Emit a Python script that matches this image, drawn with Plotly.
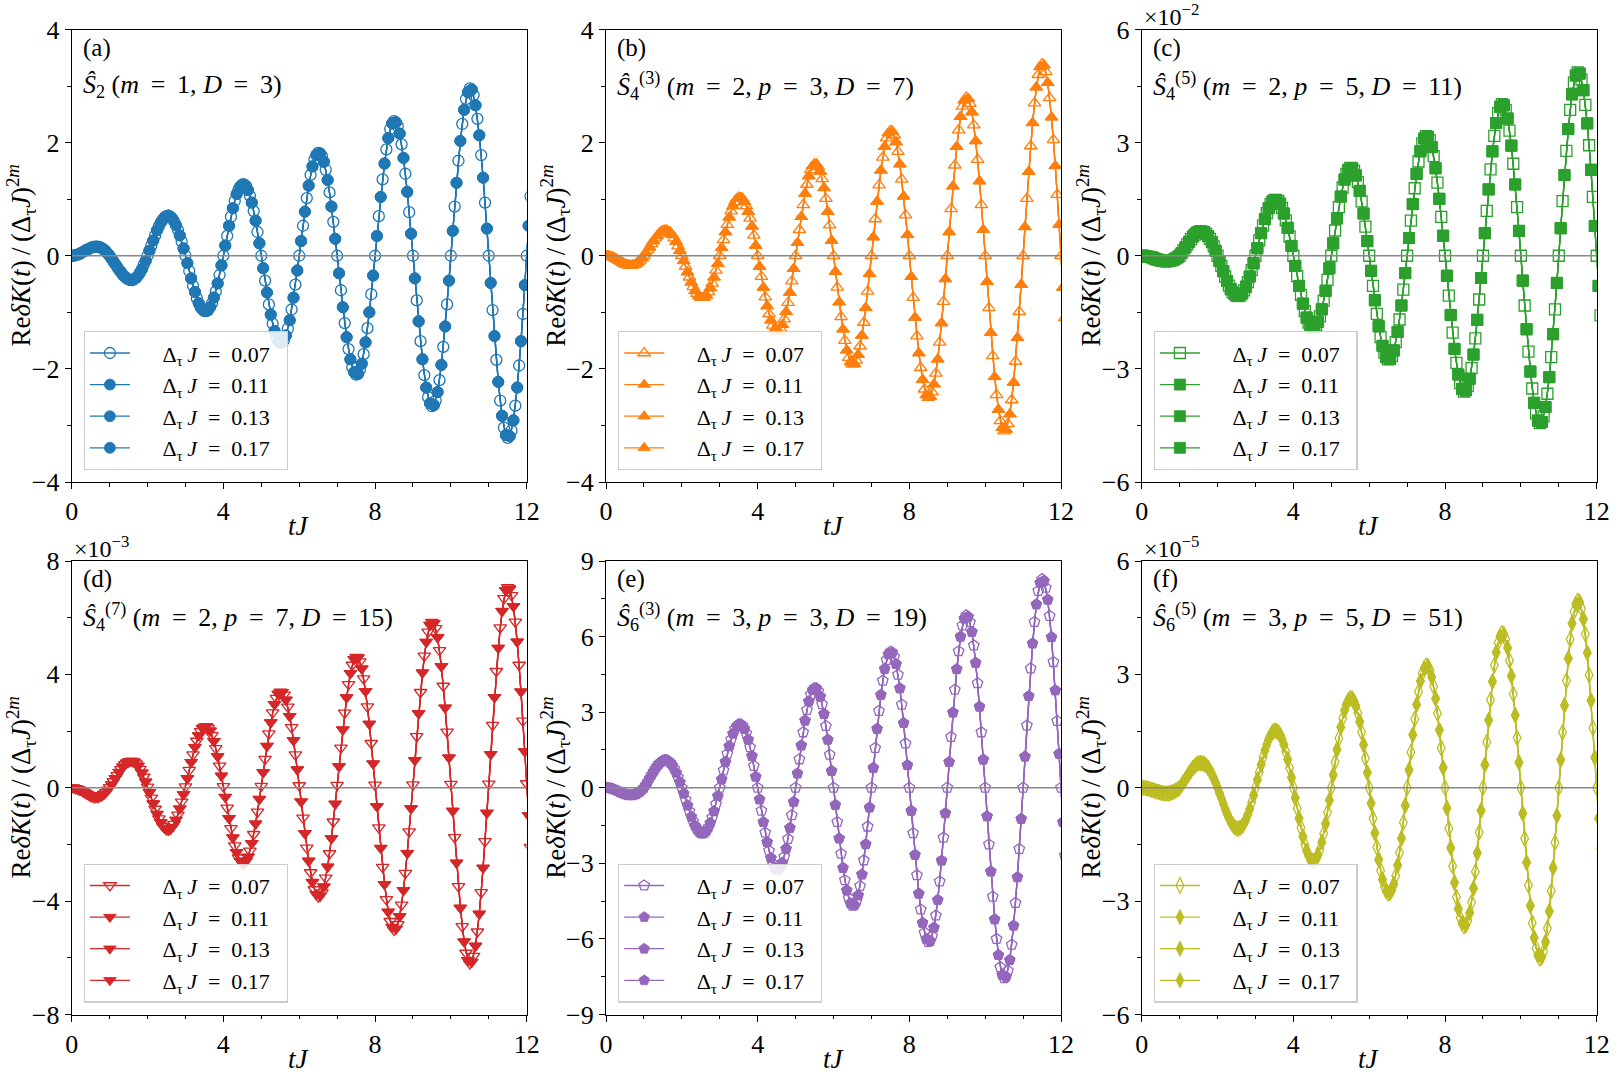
import numpy as np
import plotly.graph_objects as go

# ---------------- data ----------------
T_STEP = 0.05  # time sampling of the tabulated curves (tJ)

DT_LABELS = ["0.07", "0.11", "0.13", "0.17"]

VAL_A = [0, 0.00, 0.01, 0.02, 0.03, 0.05, 0.07, 0.09, 0.11, 0.12, 0.14, 0.15, 0.16, 0.16, 0.16, 0.15, 0.13, 0.11, 0.08, 0.04,
         0, -0.05, -0.10, -0.15, -0.20, -0.25, -0.29, -0.34, -0.37, -0.40, -0.42, -0.43, -0.43, -0.41, -0.39, -0.35, -0.30, -0.24, -0.16, -0.09,
         0, 0.09, 0.18, 0.27, 0.36, 0.45, 0.52, 0.59, 0.64, 0.68, 0.70, 0.71, 0.69, 0.66, 0.61, 0.54, 0.46, 0.36, 0.25, 0.13,
         0, -0.13, -0.27, -0.40, -0.53, -0.64, -0.75, -0.84, -0.91, -0.95, -0.98, -0.98, -0.96, -0.91, -0.84, -0.74, -0.63, -0.49, -0.34, -0.17,
         0, 0.18, 0.35, 0.53, 0.69, 0.84, 0.97, 1.09, 1.17, 1.23, 1.26, 1.26, 1.23, 1.16, 1.06, 0.94, 0.79, 0.62, 0.42, 0.22,
         0, -0.22, -0.44, -0.65, -0.86, -1.04, -1.20, -1.33, -1.44, -1.51, -1.54, -1.53, -1.49, -1.41, -1.29, -1.14, -0.95, -0.74, -0.51, -0.26,
         0, 0.26, 0.53, 0.78, 1.02, 1.24, 1.43, 1.58, 1.70, 1.78, 1.82, 1.81, 1.76, 1.66, 1.52, 1.34, 1.12, 0.87, 0.60, 0.30,
         0, -0.31, -0.61, -0.91, -1.19, -1.44, -1.65, -1.83, -1.97, -2.06, -2.10, -2.09, -2.02, -1.91, -1.74, -1.53, -1.28, -1.00, -0.68, -0.35,
         0, 0.35, 0.70, 1.04, 1.35, 1.63, 1.88, 2.08, 2.24, 2.34, 2.38, 2.36, 2.29, 2.16, 1.97, 1.73, 1.45, 1.13, 0.77, 0.39,
         0, -0.40, -0.79, -1.16, -1.51, -1.83, -2.11, -2.33, -2.50, -2.61, -2.66, -2.64, -2.56, -2.41, -2.20, -1.93, -1.61, -1.25, -0.86, -0.44,
         0, 0.44, 0.87, 1.29, 1.68, 2.03, 2.33, 2.58, 2.77, 2.89, 2.96, 2.94, 2.84, 2.66, 2.42, 2.13, 1.78, 1.38, 0.94, 0.48,
         0, -0.48, -0.96, -1.42, -1.84, -2.23, -2.56, -2.83, -3.04, -3.17, -3.22, -3.19, -3.09, -2.91, -2.65, -2.33, -1.94, -1.51, -1.03, -0.52,
         0, 0.53, 1.05]

VAL_B = [0, 0.00, -0.01, -0.02, -0.03, -0.05, -0.07, -0.09, -0.11, -0.13, -0.15, -0.16, -0.17, -0.17, -0.17, -0.16, -0.14, -0.11, -0.08, -0.04,
         0, 0.05, 0.10, 0.15, 0.21, 0.26, 0.31, 0.35, 0.39, 0.42, 0.44, 0.45, 0.45, 0.43, 0.41, 0.37, 0.31, 0.25, 0.17, 0.09,
         0, -0.09, -0.19, -0.29, -0.38, -0.47, -0.55, -0.62, -0.67, -0.71, -0.74, -0.74, -0.73, -0.70, -0.64, -0.57, -0.49, -0.38, -0.26, -0.14,
         0, 0.14, 0.28, 0.42, 0.55, 0.68, 0.79, 0.88, 0.95, 1.01, 1.03, 1.03, 1.01, 0.96, 0.88, 0.78, 0.66, 0.52, 0.36, 0.18,
         0, -0.19, -0.37, -0.56, -0.73, -0.89, -1.03, -1.14, -1.23, -1.30, -1.33, -1.33, -1.29, -1.22, -1.12, -0.99, -0.83, -0.65, -0.45, -0.23,
         0, 0.23, 0.46, 0.69, 0.90, 1.10, 1.26, 1.41, 1.52, 1.59, 1.62, 1.62, 1.57, 1.49, 1.36, 1.20, 1.01, 0.78, 0.54, 0.27,
         0, -0.28, -0.56, -0.82, -1.08, -1.30, -1.50, -1.67, -1.80, -1.88, -1.92, -1.91, -1.85, -1.75, -1.60, -1.41, -1.18, -0.92, -0.63, -0.32,
         0, 0.33, 0.65, 0.96, 1.25, 1.51, 1.74, 1.93, 2.08, 2.17, 2.21, 2.20, 2.13, 2.01, 1.84, 1.62, 1.35, 1.05, 0.72, 0.37,
         0, -0.37, -0.74, -1.09, -1.42, -1.72, -1.98, -2.19, -2.36, -2.46, -2.51, -2.49, -2.41, -2.27, -2.08, -1.83, -1.53, -1.19, -0.81, -0.41,
         0, 0.42, 0.83, 1.23, 1.60, 1.93, 2.22, 2.46, 2.64, 2.75, 2.80, 2.78, 2.69, 2.54, 2.31, 2.03, 1.70, 1.32, 0.90, 0.46,
         0, -0.46, -0.92, -1.36, -1.77, -2.14, -2.46, -2.72, -2.92, -3.04, -3.10, -3.07, -2.97, -2.80, -2.55, -2.24, -1.87, -1.45, -0.99, -0.51,
         0, 0.51, 1.01, 1.49, 1.94, 2.35, 2.70, 2.98, 3.20, 3.34, 3.39, 3.37, 3.25, 3.06, 2.79, 2.45, 2.05, 1.59, 1.08, 0.55,
         0, -0.56, -1.10]

VAL_C = [0, 0.00, -0.01, -0.02, -0.03, -0.04, -0.06, -0.08, -0.10, -0.11, -0.13, -0.14, -0.14, -0.15, -0.14, -0.13, -0.12, -0.10, -0.07, -0.04,
         0, 0.07, 0.14, 0.22, 0.30, 0.37, 0.44, 0.51, 0.56, 0.61, 0.63, 0.65, 0.64, 0.62, 0.58, 0.52, 0.45, 0.36, 0.25, 0.13,
         0, -0.14, -0.27, -0.41, -0.55, -0.67, -0.79, -0.89, -0.97, -1.02, -1.06, -1.07, -1.05, -1.00, -0.92, -0.82, -0.70, -0.55, -0.38, -0.20,
         0, 0.20, 0.41, 0.60, 0.80, 0.97, 1.13, 1.26, 1.37, 1.44, 1.48, 1.48, 1.45, 1.38, 1.27, 1.12, 0.94, 0.74, 0.51, 0.26,
         0, -0.27, -0.54, -0.80, -1.04, -1.27, -1.47, -1.64, -1.77, -1.86, -1.90, -1.90, -1.85, -1.75, -1.61, -1.42, -1.19, -0.93, -0.64, -0.33,
         0, 0.33, 0.67, 0.99, 1.29, 1.57, 1.81, 2.02, 2.17, 2.28, 2.33, 2.32, 2.25, 2.13, 1.95, 1.72, 1.44, 1.12, 0.77, 0.39,
         0, -0.40, -0.80, -1.18, -1.54, -1.87, -2.16, -2.39, -2.57, -2.69, -2.75, -2.74, -2.66, -2.51, -2.29, -2.02, -1.69, -1.32, -0.90, -0.46,
         0, 0.47, 0.93, 1.37, 1.79, 2.17, 2.50, 2.77, 2.98, 3.11, 3.17, 3.15, 3.06, 2.88, 2.64, 2.32, 1.94, 1.51, 1.03, 0.53,
         0, -0.53, -1.06, -1.57, -2.04, -2.47, -2.84, -3.15, -3.38, -3.53, -3.60, -3.57, -3.46, -3.26, -2.98, -2.62, -2.19, -1.70, -1.16, -0.59,
         0, 0.60, 1.19, 1.76, 2.29, 2.77, 3.18, 3.52, 3.78, 3.95, 4.02, 3.99, 3.86, 3.64, 3.32, 2.92, 2.44, 1.89, 1.29, 0.66,
         0, -0.66, -1.32, -1.95, -2.54, -3.07, -3.52, -3.90, -4.18, -4.37, -4.44, -4.41, -4.26, -4.01, -3.66, -3.22, -2.69, -2.08, -1.42, -0.72,
         0, 0.73, 1.45, 2.14, 2.78, 3.36, 3.87, 4.28, 4.59, 4.78, 4.86, 4.83, 4.67, 4.39, 4.00, 3.51, 2.93, 2.28, 1.56, 0.79,
         0, -0.80, -1.58]

VAL_D = [0, 0.00, -0.02, -0.04, -0.07, -0.10, -0.14, -0.18, -0.22, -0.26, -0.30, -0.32, -0.34, -0.34, -0.33, -0.31, -0.27, -0.22, -0.16, -0.08,
         0.01, 0.11, 0.22, 0.33, 0.44, 0.55, 0.65, 0.74, 0.82, 0.88, 0.92, 0.94, 0.94, 0.91, 0.85, 0.77, 0.66, 0.53, 0.38, 0.21,
         0.03, -0.17, -0.36, -0.56, -0.75, -0.93, -1.09, -1.23, -1.35, -1.43, -1.48, -1.49, -1.46, -1.39, -1.28, -1.14, -0.96, -0.74, -0.50, -0.24,
         0.04, 0.33, 0.62, 0.90, 1.17, 1.43, 1.65, 1.84, 1.99, 2.10, 2.15, 2.16, 2.11, 2.01, 1.85, 1.64, 1.39, 1.10, 0.77, 0.42,
         0.05, -0.33, -0.71, -1.08, -1.43, -1.76, -2.04, -2.28, -2.47, -2.59, -2.66, -2.65, -2.58, -2.44, -2.23, -1.96, -1.64, -1.27, -0.85, -0.40,
         0.06, 0.54, 1.01, 1.47, 1.91, 2.30, 2.65, 2.94, 3.16, 3.31, 3.38, 3.37, 3.28, 3.10, 2.85, 2.52, 2.13, 1.67, 1.17, 0.64,
         0.08, -0.49, -1.06, -1.61, -2.12, -2.58, -2.99, -3.33, -3.59, -3.76, -3.84, -3.82, -3.70, -3.49, -3.18, -2.79, -2.32, -1.79, -1.20, -0.57,
         0.09, 0.75, 1.41, 2.05, 2.64, 3.18, 3.65, 4.04, 4.33, 4.53, 4.61, 4.59, 4.45, 4.20, 3.85, 3.40, 2.86, 2.25, 1.57, 0.85,
         0.10, -0.66, -1.41, -2.13, -2.80, -3.41, -3.94, -4.38, -4.71, -4.92, -5.02, -4.98, -4.82, -4.54, -4.13, -3.62, -3.01, -2.31, -1.55, -0.73,
         0.11, 0.97, 1.81, 2.62, 3.37, 4.06, 4.65, 5.14, 5.50, 5.74, 5.84, 5.80, 5.62, 5.30, 4.85, 4.28, 3.59, 2.82, 1.97, 1.06,
         0.13, -0.82, -1.75, -2.65, -3.48, -4.24, -4.89, -5.43, -5.83, -6.09, -6.20, -6.15, -5.94, -5.58, -5.08, -4.45, -3.69, -2.83, -1.89, -0.89,
         0.14, 1.18, 2.21, 3.19, 4.11, 4.93, 5.65, 6.23, 6.68, 6.96, 7.07, 7.02, 6.79, 6.40, 5.85, 5.15, 4.33, 3.39, 2.36, 1.28,
         0.15, -0.98, -2.10]

VAL_E = [0, 0.00, -0.02, -0.03, -0.06, -0.09, -0.12, -0.16, -0.19, -0.22, -0.25, -0.27, -0.29, -0.29, -0.29, -0.27, -0.24, -0.19, -0.14, -0.07,
         0, 0.12, 0.24, 0.38, 0.51, 0.64, 0.76, 0.87, 0.96, 1.03, 1.08, 1.10, 1.10, 1.06, 0.99, 0.89, 0.76, 0.60, 0.42, 0.22,
         0, -0.23, -0.47, -0.70, -0.93, -1.15, -1.34, -1.51, -1.64, -1.74, -1.80, -1.81, -1.78, -1.70, -1.57, -1.40, -1.18, -0.93, -0.65, -0.33,
         0, 0.34, 0.69, 1.03, 1.35, 1.65, 1.92, 2.15, 2.33, 2.45, 2.52, 2.52, 2.47, 2.34, 2.16, 1.91, 1.61, 1.26, 0.87, 0.44,
         0, -0.46, -0.91, -1.36, -1.78, -2.16, -2.50, -2.79, -3.01, -3.16, -3.24, -3.24, -3.15, -2.98, -2.74, -2.42, -2.03, -1.59, -1.09, -0.56,
         0, 0.57, 1.13, 1.68, 2.20, 2.67, 3.09, 3.43, 3.70, 3.88, 3.96, 3.95, 3.83, 3.62, 3.32, 2.93, 2.45, 1.91, 1.31, 0.67,
         0, -0.68, -1.36, -2.01, -2.62, -3.18, -3.67, -4.07, -4.38, -4.59, -4.68, -4.66, -4.52, -4.27, -3.90, -3.44, -2.88, -2.24, -1.54, -0.78,
         0, 0.79, 1.58, 2.34, 3.05, 3.69, 4.25, 4.72, 5.07, 5.30, 5.40, 5.37, 5.20, 4.91, 4.49, 3.95, 3.30, 2.57, 1.76, 0.90,
         0, -0.91, -1.80, -2.66, -3.47, -4.20, -4.83, -5.36, -5.75, -6.01, -6.12, -6.08, -5.89, -5.55, -5.07, -4.45, -3.72, -2.89, -1.98, -1.01,
         0, 1.02, 2.02, 2.99, 3.89, 4.71, 5.42, 6.00, 6.44, 6.72, 6.84, 6.79, 6.57, 6.19, 5.65, 4.96, 4.15, 3.22, 2.20, 1.12,
         0, -1.13, -2.25, -3.32, -4.32, -5.22, -6.00, -6.64, -7.12, -7.43, -7.56, -7.50, -7.26, -6.83, -6.23, -5.47, -4.57, -3.55, -2.43, -1.23,
         0, 1.24, 2.47, 3.64, 4.74, 5.73, 6.58, 7.28, 7.81, 8.14, 8.28, 8.21, 7.94, 7.47, 6.82, 5.98, 4.99, 3.87, 2.65, 1.35,
         0, -1.36, -2.69]

VAL_F = [0, 0.00, -0.01, -0.02, -0.03, -0.05, -0.06, -0.08, -0.10, -0.11, -0.13, -0.14, -0.15, -0.15, -0.15, -0.14, -0.12, -0.10, -0.07, -0.04,
         0, 0.07, 0.15, 0.22, 0.30, 0.38, 0.45, 0.52, 0.57, 0.62, 0.65, 0.66, 0.65, 0.63, 0.59, 0.53, 0.45, 0.36, 0.25, 0.13,
         0, -0.14, -0.28, -0.42, -0.56, -0.68, -0.80, -0.90, -0.98, -1.04, -1.08, -1.08, -1.06, -1.02, -0.94, -0.84, -0.71, -0.56, -0.39, -0.20,
         0, 0.21, 0.41, 0.61, 0.81, 0.99, 1.15, 1.28, 1.39, 1.47, 1.51, 1.51, 1.47, 1.40, 1.29, 1.14, 0.96, 0.75, 0.52, 0.27,
         0, -0.27, -0.54, -0.81, -1.06, -1.29, -1.50, -1.67, -1.80, -1.89, -1.94, -1.93, -1.88, -1.78, -1.64, -1.44, -1.21, -0.95, -0.65, -0.33,
         0, 0.34, 0.68, 1.01, 1.31, 1.60, 1.84, 2.05, 2.21, 2.31, 2.37, 2.36, 2.29, 2.16, 1.98, 1.75, 1.47, 1.14, 0.78, 0.40,
         0, -0.41, -0.81, -1.20, -1.57, -1.90, -2.19, -2.43, -2.62, -2.74, -2.80, -2.78, -2.70, -2.55, -2.33, -2.05, -1.72, -1.34, -0.92, -0.47,
         0, 0.47, 0.94, 1.40, 1.82, 2.20, 2.54, 2.82, 3.03, 3.16, 3.23, 3.21, 3.11, 2.93, 2.68, 2.36, 1.97, 1.53, 1.05, 0.53,
         0, -0.54, -1.08, -1.59, -2.07, -2.51, -2.89, -3.20, -3.44, -3.59, -3.66, -3.63, -3.52, -3.31, -3.03, -2.66, -2.22, -1.73, -1.18, -0.60,
         0, 0.61, 1.21, 1.79, 2.33, 2.81, 3.24, 3.58, 3.84, 4.01, 4.09, 4.06, 3.93, 3.70, 3.37, 2.96, 2.48, 1.92, 1.32, 0.67,
         0, -0.68, -1.34, -1.98, -2.58, -3.12, -3.58, -3.97, -4.25, -4.44, -4.52, -4.48, -4.34, -4.08, -3.72, -3.27, -2.73, -2.12, -1.45, -0.74,
         0, 0.74, 1.47, 2.18, 2.83, 3.42, 3.93, 4.35, 4.66, 4.86, 4.95, 4.91, 4.74, 4.46, 4.07, 3.57, 2.98, 2.31, 1.58, 0.80,
         0, -0.81, -1.61]

EQ = "\u2009=\u2009"
PANEL_LETTERS = ["(a)", "(b)", "(c)", "(d)", "(e)", "(f)"]
PANEL_OPS = [
    f"<i>Ŝ</i><sub>2</sub> (<i>m</i> {EQ} 1, <i>D</i> {EQ} 3)",
    f"<i>Ŝ</i><sub>4</sub><sup>(3)</sup> (<i>m</i> {EQ} 2, <i>p</i> {EQ} 3, <i>D</i> {EQ} 7)",
    f"<i>Ŝ</i><sub>4</sub><sup>(5)</sup> (<i>m</i> {EQ} 2, <i>p</i> {EQ} 5, <i>D</i> {EQ} 11)",
    f"<i>Ŝ</i><sub>4</sub><sup>(7)</sup> (<i>m</i> {EQ} 2, <i>p</i> {EQ} 7, <i>D</i> {EQ} 15)",
    f"<i>Ŝ</i><sub>6</sub><sup>(3)</sup> (<i>m</i> {EQ} 3, <i>p</i> {EQ} 3, <i>D</i> {EQ} 19)",
    f"<i>Ŝ</i><sub>6</sub><sup>(5)</sup> (<i>m</i> {EQ} 3, <i>p</i> {EQ} 5, <i>D</i> {EQ} 51)",
]
PANEL_EXPONENTS = [None, None, "−2", "−3", None, "−5"]
Y_LIMITS = [4, 4, 6, 8, 9, 6]
Y_MAJOR = [2, 2, 3, 4, 3, 3]
Y_MINOR = [1, 1, 1.5, 2, 1.5, 1.5]
X_TICKS = [0, 4, 8, 12]
Y_TITLE = "Re<i>δK</i>(<i>t</i>)\u2009/\u2009(Δ<sub>τ</sub><i>J</i>)<sup>2<i>m</i></sup>"
X_TITLE = "<i>tJ</i>"

# ---------------- styling ----------------
COLORS = ["#1f77b4", "#ff7f0e", "#2ca02c", "#d62728", "#9467bd", "#bcbd22"]
SYMBOLS = ["circle", "triangle-up", "square", "triangle-down", "pentagon", "diamond-tall"]
FONT = "Liberation Serif"
PANEL_VALUES = [VAL_A, VAL_B, VAL_C, VAL_D, VAL_E, VAL_F]

W, H = 1619, 1080
XD = [(71.7 / W, 526.7 / W), (606.0 / W, 1061.0 / W), (1141.7 / W, 1596.7 / W)]
YD = [(1 - 482.0 / H, 1 - 29.5 / H), (1 - 1014.5 / H, 1 - 561.0 / H)]

fig = go.Figure()
layout = dict(
    width=W, height=H,
    margin=dict(l=0, r=0, t=0, b=0),
    paper_bgcolor="white", plot_bgcolor="white",
    font=dict(family=FONT, size=24, color="black"),
    showlegend=True,
)
annotations = []
shapes = []

for p in range(6):
    n = p + 1
    sfx = "" if n == 1 else str(n)
    row, col = divmod(p, 3)
    vals = np.array(PANEL_VALUES[p])
    t = np.round(np.arange(len(vals)) * T_STEP, 2)
    color = COLORS[p]
    legend_name = "legend" if n == 1 else f"legend{n}"

    for k, lab in enumerate(DT_LABELS):
        sel = slice(0, None, 2) if k == 0 else slice(1, None, 2)
        if k == 0:
            marker = dict(symbol=SYMBOLS[p] + "-open", size=11, color=color, line=dict(width=1.3, color=color))
        else:
            marker = dict(symbol=SYMBOLS[p], size=11, color=color, line=dict(width=0.8, color=color))
        fig.add_trace(go.Scatter(
            x=t[sel], y=vals[sel], mode="lines+markers",
            name=f"\u00a0\u00a0\u00a0\u00a0\u00a0Δ<sub>τ</sub>\u2009<i>J</i>\u00a0\u00a0=\u00a0\u00a0{lab}\u00a0\u00a0",
            line=dict(color=color, width=1.3),
            marker=marker,
            xaxis="x" + sfx, yaxis="y" + sfx,
            legend=legend_name,
        ))

    lim = Y_LIMITS[p]
    layout["xaxis" + sfx] = dict(
        domain=list(XD[col]), anchor="y" + sfx, range=[0, 12], automargin=False,
        tickmode="array", tickvals=X_TICKS,
        ticks="outside", ticklen=6, tickwidth=1.2, tickcolor="black",
        minor=dict(dtick=1, tick0=0, ticks="outside", ticklen=3.5, tickwidth=1, tickcolor="black", showgrid=False),
        showline=True, linecolor="black", linewidth=1.2, mirror=True,
        showgrid=False, zeroline=False,
        tickfont=dict(family=FONT, size=26),
    )
    layout["yaxis" + sfx] = dict(
        domain=list(YD[row]), anchor="x" + sfx, range=[-lim, lim], automargin=False,
        tickmode="linear", tick0=0, dtick=Y_MAJOR[p],
        ticks="outside", ticklen=6, tickwidth=1.2, tickcolor="black",
        minor=dict(dtick=Y_MINOR[p], tick0=0, ticks="outside", ticklen=3.5, tickwidth=1, tickcolor="black", showgrid=False),
        showline=True, linecolor="black", linewidth=1.2, mirror=True,
        showgrid=False, zeroline=False,
        tickfont=dict(family=FONT, size=26),
    )
    layout[legend_name] = dict(
        x=XD[col][0] + 12 / W, y=YD[row][0] + 12 / H,
        xanchor="left", yanchor="bottom",
        bgcolor="rgba(255,255,255,0.85)", bordercolor="#cccccc", borderwidth=1.2,
        font=dict(family=FONT, size=22),
        itemwidth=40,
    )
    shapes.append(dict(type="line", xref=f"x{sfx} domain", x0=0, x1=1,
                       yref="y" + sfx, y0=0, y1=0,
                       line=dict(color="#888888", width=1.5), layer="above"))
    # axis titles
    annotations.append(dict(text=X_TITLE, xref=f"x{sfx} domain", yref=f"y{sfx} domain",
                            x=0.5, y=0, yshift=-44, xanchor="center", yanchor="middle",
                            showarrow=False, font=dict(family=FONT, size=27)))
    annotations.append(dict(text=Y_TITLE, xref=f"x{sfx} domain", yref=f"y{sfx} domain",
                            x=0, y=0.5, xshift=-51, xanchor="center", yanchor="middle", textangle=-90,
                            showarrow=False, font=dict(family=FONT, size=27)))
    # panel labels
    annotations.append(dict(text=PANEL_LETTERS[p], xref=f"x{sfx} domain", yref=f"y{sfx} domain",
                            x=0.02, y=1 - 18 / 452, xanchor="left", yanchor="middle",
                            showarrow=False, font=dict(family=FONT, size=25)))
    annotations.append(dict(text=PANEL_OPS[p], xref=f"x{sfx} domain", yref=f"y{sfx} domain",
                            x=0.02, y=1 - 56 / 452, xanchor="left", yanchor="middle",
                            showarrow=False, font=dict(family=FONT, size=26)))
    if PANEL_EXPONENTS[p]:
        annotations.append(dict(text=f"×10<sup>{PANEL_EXPONENTS[p]}</sup>", xref=f"x{sfx} domain",
                                yref=f"y{sfx} domain", x=0, y=1, yshift=-3, xanchor="left", yanchor="bottom",
                                showarrow=False, font=dict(family=FONT, size=24)))

layout["annotations"] = annotations
layout["shapes"] = shapes
fig.update_layout(**layout)
fig.write_html("out.html", config={"displayModeBar": False},
               post_script="document.body.style.margin='0px';document.body.style.padding='0px';")
